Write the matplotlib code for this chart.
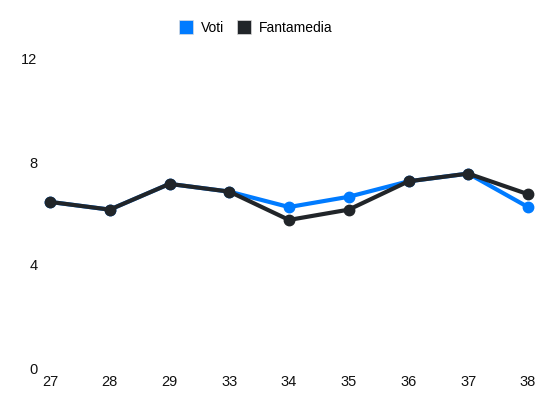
import matplotlib.pyplot as plt
from matplotlib.lines import Line2D

plt.rcParams['font.family'] = ['Liberation Sans', 'DejaVu Sans']

giornate = ['27', '28', '29', '33', '34', '35', '36', '37', '38']
voti = [6.45, 6.15, 7.15, 6.85, 6.25, 6.65, 7.25, 7.55, 6.25]
fantamedia = [6.45, 6.15, 7.15, 6.85, 5.75, 6.15, 7.25, 7.55, 6.75]

blue = '#007bff'
dark = '#212529'

fig = plt.figure(figsize=(5.5, 4.12), dpi=100)
ax = fig.add_axes([50 / 550, 44 / 412, 478 / 550, 309 / 412])

x = list(range(len(giornate)))
ax.plot(x, voti, color=blue, lw=3, marker='o', ms=7.5, clip_on=False, zorder=2)
ax.plot(x, fantamedia, color=dark, lw=3, marker='o', ms=7.5, clip_on=False, zorder=3)

ax.set_xlim(0, len(giornate) - 1)
ax.set_ylim(0, 12)
ax.set_xticks(x)
ax.set_xticklabels(giornate)
ax.set_yticks([0, 4, 8, 12])
ax.tick_params(axis='both', length=0, labelsize=10.5, colors='#111111')
ax.tick_params(axis='y', pad=9)
ax.tick_params(axis='x', pad=5)
for s in ax.spines.values():
    s.set_visible(False)

handles = [Line2D([], [], ls='none', marker='s', ms=10, color=blue, markeredgecolor='#dddddd', markeredgewidth=0.5),
           Line2D([], [], ls='none', marker='s', ms=10, color=dark, markeredgecolor='#dddddd', markeredgewidth=0.5)]
fig.legend(handles, ['Voti', 'Fantamedia'], loc='center', bbox_to_anchor=(256 / 550, 1 - 28 / 412),
           ncol=2, frameon=False, fontsize=10, handlelength=1.0, handletextpad=0.6, columnspacing=0.9)

fig.savefig('out.png', dpi=100)
